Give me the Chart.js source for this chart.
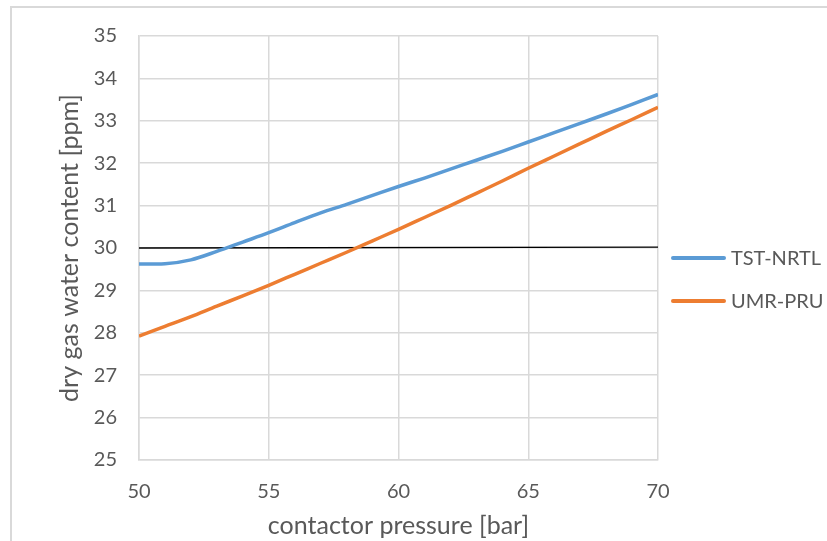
<!DOCTYPE html>
<html>
<head>
<meta charset="utf-8">
<script src="https://cdn.jsdelivr.net/npm/chart.js@4.4.0/dist/chart.umd.min.js"></script>
<style>
  html, body { margin: 0; padding: 0; background: #fff; overflow: hidden; }
  #wrap { position: relative; width: 827px; height: 541px; }
  canvas { position: absolute; left: 0; top: 0; }
  #frame {
    position: absolute; left: 10px; top: 6px; right: -10px; bottom: -10px;
    border-left: 2px solid #d9d9d9; border-top: 2px solid #d9d9d9;
    pointer-events: none;
  }
</style>
</head>
<body>
<div id="wrap">
  <canvas id="chart" width="827" height="541"></canvas>
  <div id="frame"></div>
</div>
<script>
// contactor pressure [bar]
const pressure = [50, 51, 52, 53, 54, 55, 56, 57, 58, 59, 60, 61, 62, 63, 64, 65, 66, 67, 68, 69, 70];
// dry gas water content [ppm]
const tstNrtl = [29.62, 29.63, 29.72, 29.92, 30.14, 30.36, 30.60, 30.83, 31.03, 31.24, 31.45,
                 31.65, 31.86, 32.07, 32.28, 32.50, 32.72, 32.94, 33.16, 33.39, 33.62];
const umrPru = [27.92, 28.15, 28.38, 28.63, 28.87, 29.12, 29.38, 29.64, 29.90, 30.17, 30.44,
                30.72, 31.00, 31.29, 31.58, 31.88, 32.17, 32.46, 32.75, 33.03, 33.32];
// 30 ppm spec line
const limitX = [50, 70];
const limitY = [30, 30.02];

const FONT = 'Lato, "Open Sans", sans-serif';
const TEXT = '#595959';
const GRID = '#d9d9d9';

function toPoints(xs, ys) {
  return xs.map((x, i) => ({ x: x, y: ys[i] }));
}

// simple legend on the right, line swatch + label
const sideLegend = {
  id: 'sideLegend',
  afterDraw(chart) {
    const ctx = chart.ctx;
    let y = 258;
    ctx.save();
    chart.data.datasets.forEach(ds => {
      if (ds.noLegend) return;
      ctx.strokeStyle = ds.borderColor;
      ctx.lineWidth = 4;
      ctx.lineCap = 'round';
      ctx.beginPath();
      ctx.moveTo(673, y);
      ctx.lineTo(724, y);
      ctx.stroke();
      ctx.fillStyle = TEXT;
      ctx.font = '20px ' + FONT;
      ctx.textBaseline = 'middle';
      ctx.textAlign = 'left';
      ctx.fillText(ds.label, 731, y + 1);
      y += 43;
    });
    ctx.restore();
  }
};

new Chart(document.getElementById('chart'), {
  type: 'line',
  data: {
    datasets: [
      {
        label: 'TST-NRTL',
        data: toPoints(pressure, tstNrtl),
        borderColor: '#5b9bd5',
        borderWidth: 3.5,
        pointRadius: 0,
        tension: 0.4,
        cubicInterpolationMode: 'monotone'
      },
      {
        label: 'UMR-PRU',
        data: toPoints(pressure, umrPru),
        borderColor: '#ed7d31',
        borderWidth: 3.5,
        pointRadius: 0,
        tension: 0.4,
        cubicInterpolationMode: 'monotone'
      },
      {
        label: 'limit',
        noLegend: true,
        data: toPoints(limitX, limitY),
        borderColor: '#000000',
        borderWidth: 1.3,
        pointRadius: 0,
        tension: 0
      }
    ]
  },
  options: {
    responsive: false,
    animation: false,
    layout: { padding: { top: 36, right: 169, bottom: 0, left: 0 } },
    plugins: {
      legend: { display: false },
      tooltip: { enabled: false }
    },
    scales: {
      x: {
        type: 'linear',
        min: 50,
        max: 70,
        afterFit: s => { s.height = 81; },
        ticks: {
          stepSize: 5,
          padding: 20,
          color: TEXT,
          font: { family: FONT, size: 20 }
        },
        grid: { color: GRID, lineWidth: 1.5, drawTicks: false },
        border: { color: GRID, width: 1.5 },
        title: {
          display: true,
          text: 'contactor pressure [bar]',
          color: TEXT,
          font: { family: FONT, size: 25 },
          padding: { top: 0, bottom: 0 }
        }
      },
      y: {
        min: 25,
        max: 35,
        afterFit: s => { s.width = 139; },
        ticks: {
          stepSize: 1,
          padding: 22,
          color: TEXT,
          font: { family: FONT, size: 20 }
        },
        grid: { color: GRID, lineWidth: 1.5, drawTicks: false },
        border: { color: GRID, width: 1.5 },
        title: {
          display: true,
          text: 'dry gas water content [ppm]',
          color: TEXT,
          font: { family: FONT, size: 25 },
          padding: { top: 55, bottom: 0 }
        }
      }
    }
  },
  plugins: [sideLegend]
});
</script>
</body>
</html>
